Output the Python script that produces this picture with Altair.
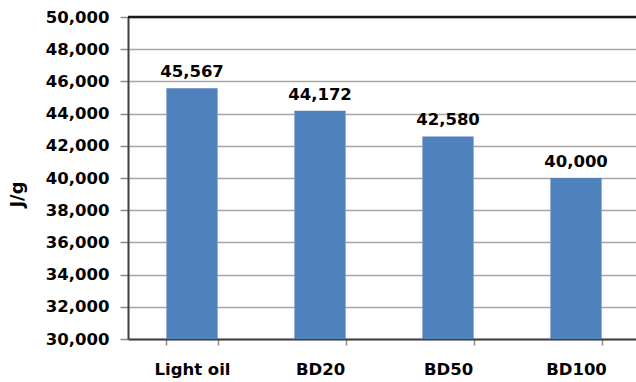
import altair as alt
import pandas as pd

# Heating value of each fuel blend
fuels = ["Light oil", "BD20", "BD50", "BD100"]
heating_values = [45567, 44172, 42580, 40000]
y_ticks = list(range(30000, 50001, 2000))
y_min, y_max = 30000, 50000

df = pd.DataFrame({"fuel": fuels, "value": heating_values})

FONT = "DejaVu Sans"
BAR_COLOR = "#4F81BD"

x_scale = alt.Scale(paddingInner=0.6, paddingOuter=0.3, range=[0, 512])
y_scale = alt.Scale(domain=[y_min, y_max], nice=False, zero=False)

x_enc = alt.X(
    "fuel:N",
    sort=fuels,
    title=None,
    scale=x_scale,
    axis=alt.Axis(
        labelAngle=0,
        labelFont=FONT,
        labelFontSize=16.5,
        labelFontWeight="bold",
        labelColor="#000000",
        labelPadding=16,
        labelBaseline="top",
        tickBand="extent",
        tickSize=6,
        tickColor="#8C8C8C",
        tickWidth=1.5,
        domainColor="#404040",
        domainWidth=2,
        grid=False,
    ),
)

y_axis = alt.Axis(
    values=y_ticks,
    format=",.0f",
    labelFont=FONT,
    labelFontSize=16.5,
    labelFontWeight="bold",
    labelColor="#000000",
    labelPadding=11,
    tickSize=8,
    tickColor="#8C8C8C",
    tickWidth=1.5,
    domainColor="#404040",
    domainWidth=2,
    grid=True,
    gridColor="#A6A6A6",
    gridWidth=1.5,
    titleFont=FONT,
    titleFontSize=18,
    titleFontWeight="bold",
    titleColor="#000000",
    titleAngle=-90,
    titleAlign="center",
    titleBaseline="middle",
    titleX=-111,
    titleY=177,
)

y_enc = alt.Y("value:Q", title="J/g", scale=y_scale, axis=y_axis)

bars = alt.Chart(df).mark_bar(color=BAR_COLOR).encode(
    x=x_enc, y=y_enc, y2=alt.datum(y_min)
)

labels = alt.Chart(df).mark_text(
    font=FONT,
    fontSize=16.5,
    fontWeight="bold",
    color="#000000",
    baseline="alphabetic",
    dy=-11,
).encode(
    x=x_enc,
    y=y_enc,
    text=alt.Text("value:Q", format=",.0f"),
)

# Dark border along the top of the plot area
top_line = alt.Chart(pd.DataFrame({"value": [y_max]})).mark_rule(
    color="#1A1A1A", strokeWidth=2.5
).encode(
    y=y_enc,
    x=alt.value(0),
    x2=alt.value(512),
)

chart = (
    alt.layer(bars, labels, top_line)
    .properties(
        width=508,
        height=322,
        autosize=alt.AutoSizeParams(type="none"),
        padding={"left": 128, "top": 17, "right": 0, "bottom": 43},
        background="#FFFFFF",
    )
    .configure_view(stroke=None)
)

chart.save("out.html", embed_options={"renderer": "svg", "actions": False})
